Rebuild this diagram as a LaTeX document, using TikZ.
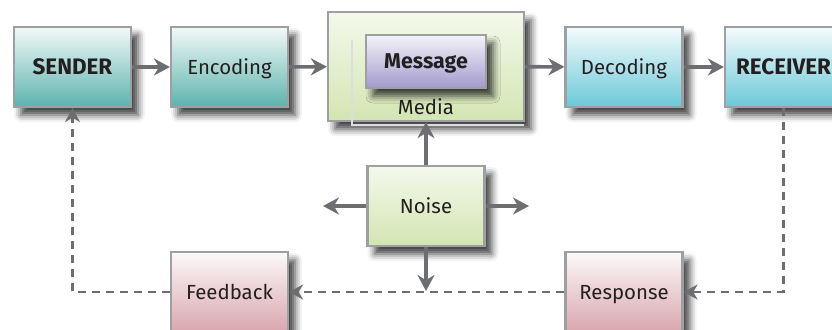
\documentclass[tikz,border=0pt]{standalone}
\usepackage{fontspec}
\setmainfont{Fira Sans}
\usetikzlibrary{arrows.meta, positioning, shadows.blur}
\definecolor{framegray}{HTML}{9D9FA2}
\definecolor{arrowgray}{HTML}{6D6E71}
\definecolor{sendteal}{HTML}{5DB3AC}
\definecolor{recvcyan}{HTML}{6BC9D8}
\definecolor{mediagreen}{HTML}{D3E5B2}
\definecolor{msgpurple}{HTML}{A39ACD}
\definecolor{backpink}{HTML}{D9A6AE}
\definecolor{txtdark}{HTML}{231F20}

\begin{document}
\begin{tikzpicture}[
    x=0.5pt, y=-0.5pt,
    font=\fontsize{10.2}{12}\selectfont,
    text=txtdark,
    basebox/.style={
        draw=framegray, line width=1.1pt,
        minimum width=58.5pt, minimum height=40pt,
        inner sep=0pt, align=center,
        text height=9pt, text depth=2pt,
        blur shadow={shadow xshift=3.5pt, shadow yshift=-4pt,
                     shadow blur radius=3.5pt, shadow opacity=75},
    },
    tealbox/.style={basebox, top color=sendteal!8, bottom color=sendteal},
    cyanbox/.style={basebox, top color=recvcyan!8, bottom color=recvcyan},
    greenbox/.style={basebox, top color=mediagreen!25, bottom color=mediagreen},
    pinkbox/.style={basebox, top color=backpink!8, bottom color=backpink},
    msgbox/.style={basebox, minimum width=60pt, minimum height=26.5pt,
                   top color=msgpurple!12, bottom color=msgpurple},
    bigtext/.style={font=\fontsize{11.2}{13}\selectfont\bfseries},
    arr/.style={-{Stealth[length=8pt, width=8.5pt]}, line width=1.8pt, color=arrowgray},
    dasharr/.style={-{Stealth[length=7pt, width=7.5pt]}, line width=1.3pt,
                    color=arrowgray, dash pattern=on 4pt off 3pt},
]
\useasboundingbox (0,0) rectangle (832,329);

% Top row
\node[tealbox, bigtext] (sender) at (72.5,67) {SENDER};
\node[tealbox] (encoding) at (229.5,67) {Encoding};
\node[greenbox, minimum width=98pt, minimum height=54.5pt] (media) at (426,66.5) {};
\draw[framegray!35, line width=0.6pt] (352,40) -- (352,125) -- (524,125);
\node[msgbox, font=\fontsize{10.7}{12}\selectfont\bfseries] (message) at (426,61.5) {Message};
\node (medialabel) at (426,107) {Media};
\node[cyanbox] (decoding) at (624,67) {Decoding};
\node[cyanbox, bigtext] (receiver) at (783.5,67) {RECEIVER};

% Noise
\node[greenbox] (noise) at (426,206) {Noise};
\coordinate (noise left) at (323,206);
\coordinate (noise right) at (529,206);
\coordinate (noise down) at (426,291);

% Bottom row
\node[pinkbox] (feedback) at (229.5,292) {Feedback};
\node[pinkbox] (response) at (624,292) {Response};

% Main flow arrows
\draw[arr] (sender) -- (encoding);
\draw[arr] (encoding) -- (media);
\draw[arr] (media) -- (decoding);
\draw[arr] (decoding) -- (receiver);

% Noise arrows
\draw[arr] (noise) -- (media);
\draw[arr] (noise) -- (noise left);
\draw[arr] (noise) -- (noise right);
\draw[arr] (noise) -- (noise down);

% Return loop
\draw[dasharr] (receiver.south) |- (response.east);
\draw[dasharr] (response) -- (feedback);
\draw[dasharr] (feedback.west) -| (sender.south);

\end{tikzpicture}
\end{document}
